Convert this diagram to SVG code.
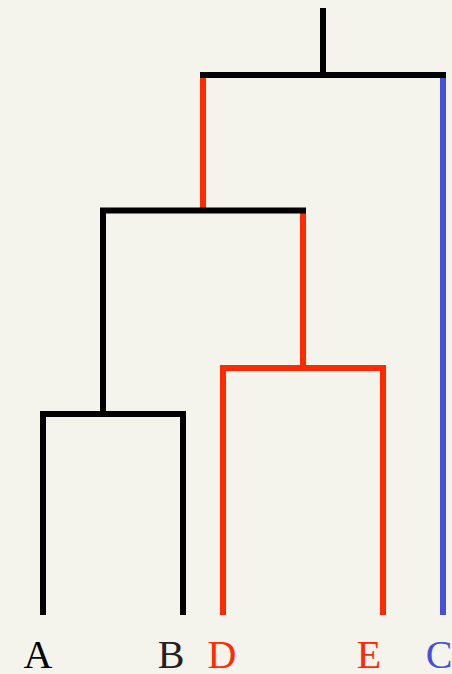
<svg xmlns="http://www.w3.org/2000/svg" width="452" height="674" viewBox="0 0 452 674">
<style>
.e{fill:none;stroke-width:6;stroke-linecap:butt}
.k{stroke:#000}
.r{stroke:#ff2a00}
.b{stroke:#4450d8}
.t{font-family:"Liberation Serif","Times New Roman",serif;font-size:40px;text-anchor:middle}
</style>
<rect width="452" height="674" fill="#f4f3ec"/>
<g id="connectors">
<line class="e k" x1="323" y1="8" x2="323" y2="75"/>
<line class="e r" x1="203" y1="75" x2="203" y2="210"/>
<line class="e b" x1="443" y1="75" x2="443" y2="615"/>
<line class="e k" x1="200" y1="75" x2="446" y2="75"/>
<line class="e k" x1="103" y1="210" x2="103" y2="414"/>
<line class="e r" x1="303" y1="210" x2="303" y2="368"/>
<line class="e k" x1="100" y1="210.5" x2="306" y2="210.5"/>
<line class="e k" x1="43" y1="414" x2="43" y2="615"/>
<line class="e k" x1="183" y1="414" x2="183" y2="615"/>
<line class="e k" x1="40" y1="414" x2="186" y2="414"/>
<line class="e r" x1="223" y1="368" x2="223" y2="615"/>
<line class="e r" x1="383" y1="368" x2="383" y2="615"/>
<line class="e r" x1="220" y1="368" x2="386" y2="368"/>
</g>
<g id="leaf-A"><text class="t" x="38" y="668" fill="#000">A</text></g>
<g id="leaf-B"><text class="t" x="171" y="668" fill="#222">B</text></g>
<g id="leaf-D"><text class="t" x="222" y="668" fill="#ff2a00">D</text></g>
<g id="leaf-E"><text class="t" x="369" y="668" fill="#ff2a00">E</text></g>
<g id="leaf-C"><text class="t" x="439" y="668" fill="#4450d8">C</text></g>
</svg>
